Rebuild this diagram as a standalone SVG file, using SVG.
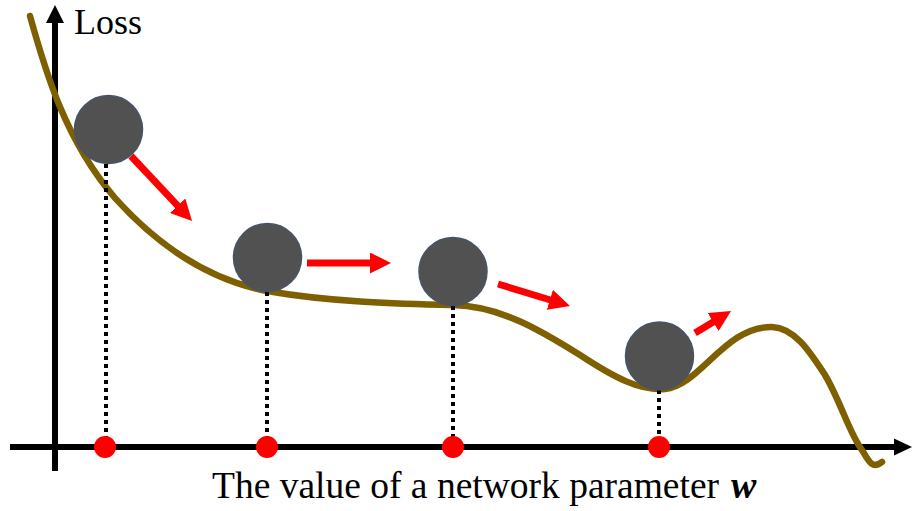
<svg xmlns="http://www.w3.org/2000/svg" width="916" height="511" viewBox="0 0 916 511">
<style>
.axis{stroke:#000;stroke-width:6;fill:none}
.curve{stroke:#7f6000;stroke-width:6.5;fill:none;stroke-linecap:round;stroke-linejoin:round}
.drop{stroke:#000;stroke-width:4;stroke-dasharray:4 4;fill:none}
.ball{fill:#515151;stroke:#44546a;stroke-width:1.5}
.dot{fill:#ff0000}
.move{stroke:#ff0000;stroke-width:7;fill:none;marker-end:url(#rh)}
text{font-family:"Liberation Serif","Times New Roman",serif;fill:#000}
</style>
<defs>
<marker id="rh" viewBox="0 0 10 10" refX="1.9" refY="5" markerWidth="3" markerHeight="3" orient="auto" markerUnits="strokeWidth">
<path d="M0,0 L10,5 L0,10 z" fill="#ff0000"/>
</marker>
</defs>
<g id="axes">
<line class="axis" x1="10" y1="447" x2="896" y2="447"/>
<polygon points="912,447 894,438.5 894,455.5" fill="#000"/>
<line class="axis" x1="55" y1="471" x2="55" y2="21"/>
<polygon points="55,5 46,23 64,23" fill="#000"/>
</g>
<g id="loss-curve">
<path class="curve" d="M30,16 C45,70 65,140 115,198 C160,248 210,280 267,291 C330,302 400,304 453,305 C500,306 540,330 580,355 C615,378 640,391 665,389 C700,386 725,326 772,327 C795,328 810,352 825,375 C840,400 850,435 862,450 C868,460 872,470 882,462"/>
</g>
<g id="connectors">
<line class="drop" x1="106" y1="164" x2="106" y2="440"/>
<line class="drop" x1="267" y1="292" x2="267" y2="440"/>
<line class="drop" x1="453" y1="306" x2="453" y2="440"/>
<line class="drop" x1="659" y1="390" x2="659" y2="440"/>
<line class="move" x1="131" y1="156" x2="180.4" y2="208.6"/>
<line class="move" x1="307" y1="263" x2="374" y2="263"/>
<line class="move" x1="498" y1="284" x2="553.7" y2="301"/>
<line class="move" x1="695" y1="333" x2="716.5" y2="319.9"/>
</g>
<g id="ball-1"><circle class="ball" cx="108.5" cy="129.5" r="34"/></g>
<g id="ball-2"><circle class="ball" cx="267.5" cy="257.5" r="34"/></g>
<g id="ball-3"><circle class="ball" cx="453" cy="271.5" r="34"/></g>
<g id="ball-4"><circle class="ball" cx="659.5" cy="356" r="34"/></g>
<g id="dot-1"><circle class="dot" cx="105" cy="447" r="11"/></g>
<g id="dot-2"><circle class="dot" cx="267" cy="447" r="11"/></g>
<g id="dot-3"><circle class="dot" cx="453" cy="447" r="11"/></g>
<g id="dot-4"><circle class="dot" cx="659" cy="447" r="11"/></g>
<g id="labels">
<text x="74" y="34" font-size="35" textLength="68" lengthAdjust="spacingAndGlyphs">Loss</text>
<text x="212" y="498" font-size="37.5">The value of a network parameter</text>
<text x="731" y="498" font-size="38" font-weight="bold" font-style="italic">w</text>
</g>
</svg>
